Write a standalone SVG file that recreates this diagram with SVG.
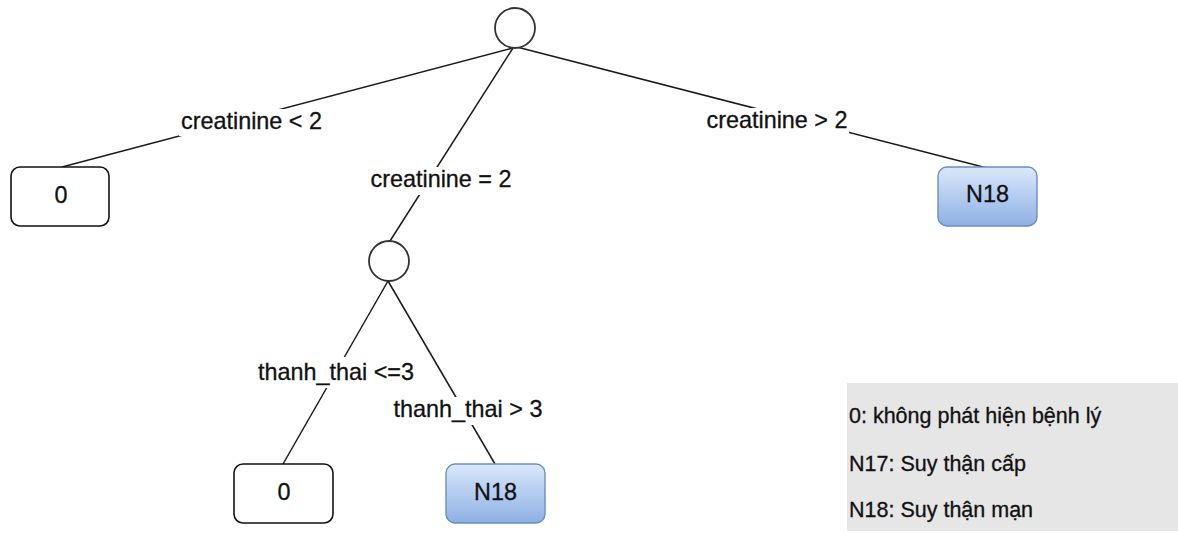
<svg xmlns="http://www.w3.org/2000/svg" width="1178" height="539" viewBox="0 0 1178 539">
  <defs>
    <linearGradient id="blueFill" x1="0" y1="0" x2="0" y2="1">
      <stop offset="0" stop-color="#dae8fc"/>
      <stop offset="1" stop-color="#8db0e3"/>
    </linearGradient>
    <style>
      text { font-family: "Liberation Sans", Arial, Helvetica, sans-serif; fill: #111; stroke: #111; stroke-width: 0.3; }
      .edge { stroke: #1a1a1a; stroke-width: 1.5; fill: none; }
      .lblbg { fill: #ffffff; }
      .lbl { font-size: 23.4px; text-anchor: middle; }
      .split { fill: #ffffff; stroke: #333333; stroke-width: 1.8; }
      .leafW { fill: #ffffff; stroke: #111111; stroke-width: 1.6; }
      .leafB { fill: url(#blueFill); stroke: #6c8ebf; stroke-width: 1.4; }
      .leaftxt { font-size: 23.4px; text-anchor: middle; }
      .legend { font-size: 21.5px; }
    </style>
  </defs>
  <rect width="1178" height="539" fill="#ffffff"/>

  <!-- connectors with their condition labels -->
  <g id="connectors">
    <line class="edge" x1="513" y1="48" x2="62" y2="167"/>
    <line class="edge" x1="513" y1="48" x2="390" y2="241"/>
    <line class="edge" x1="513" y1="46" x2="987" y2="168"/>
    <line class="edge" x1="388" y1="281" x2="283" y2="464"/>
    <line class="edge" x1="388" y1="281" x2="495" y2="464"/>

    <rect class="lblbg" x="179" y="109" width="145" height="27"/>
    <text class="lbl" x="251.5" y="129">creatinine &lt; 2</text>

    <rect class="lblbg" x="369" y="167" width="144" height="28"/>
    <text class="lbl" x="441" y="187">creatinine = 2</text>

    <rect class="lblbg" x="705" y="108" width="144" height="28"/>
    <text class="lbl" x="777" y="128">creatinine &gt; 2</text>

    <rect class="lblbg" x="257" y="357" width="158" height="31"/>
    <text class="lbl" x="336" y="380">thanh_thai &lt;=3</text>

    <rect class="lblbg" x="392" y="397" width="152" height="28"/>
    <text class="lbl" x="468" y="417">thanh_thai &gt; 3</text>
  </g>

  <!-- decision nodes -->
  <g id="root">
    <circle class="split" cx="515" cy="28" r="20"/>
  </g>
  <g id="split-thanh-thai">
    <circle class="split" cx="389" cy="261" r="20"/>
  </g>

  <!-- leaf nodes -->
  <g id="leaf-0-top">
    <rect class="leafW" x="11" y="167" width="98" height="59" rx="9"/>
    <text class="leaftxt" x="61" y="203">0</text>
  </g>
  <g id="leaf-n18-top">
    <rect class="leafB" x="938" y="167" width="99" height="59" rx="9"/>
    <text class="leaftxt" x="987.5" y="202">N18</text>
  </g>
  <g id="leaf-0-bottom">
    <rect class="leafW" x="234" y="464" width="99" height="59" rx="9"/>
    <text class="leaftxt" x="284" y="500">0</text>
  </g>
  <g id="leaf-n18-bottom">
    <rect class="leafB" x="446" y="464" width="99" height="59" rx="9"/>
    <text class="leaftxt" x="495.5" y="500">N18</text>
  </g>

  <!-- legend -->
  <g id="legend">
    <rect x="847" y="383" width="331" height="148" fill="#e6e6e6"/>
    <text class="legend" x="849" y="423">0: không phát hiện bệnh lý</text>
    <text class="legend" x="849" y="471">N17: Suy thận cấp</text>
    <text class="legend" x="849" y="517">N18: Suy thận mạn</text>
  </g>
</svg>
